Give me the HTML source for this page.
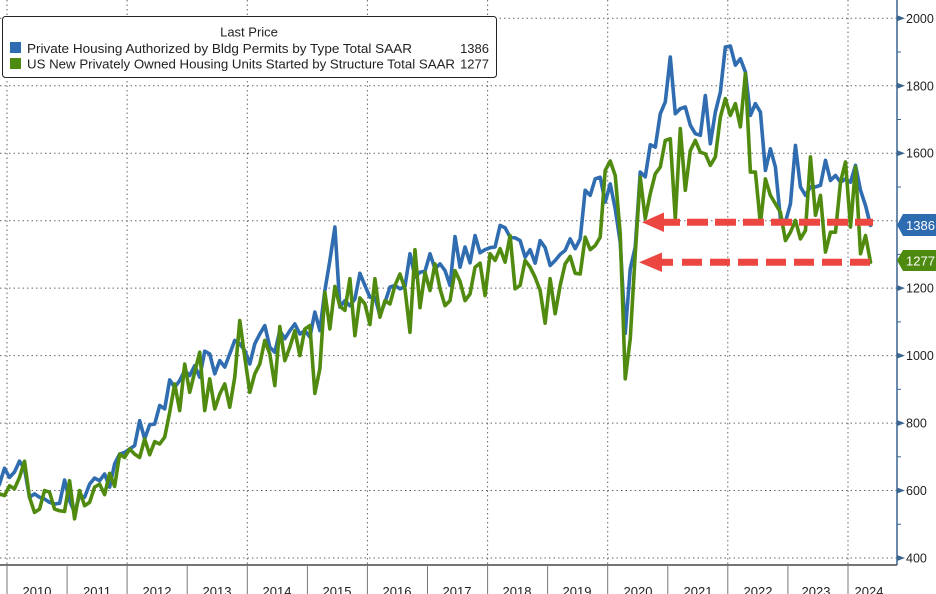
<!DOCTYPE html>
<html>
<head>
<meta charset="utf-8">
<style>
  html,body{margin:0;padding:0;background:#fff;}
  svg{display:block;}
  text{font-family:"Liberation Sans", Arial, sans-serif;}
</style>
</head>
<body>
<svg width="936" height="594" viewBox="0 0 936 594" xmlns="http://www.w3.org/2000/svg">
  <rect x="0" y="0" width="936" height="594" fill="#ffffff"/>

  <!-- horizontal dotted gridlines -->
  <g stroke="#666" stroke-width="1" stroke-dasharray="1.5 3">
    <line x1="0" y1="18.3" x2="897" y2="18.3"/>
    <line x1="0" y1="85.8" x2="897" y2="85.8"/>
    <line x1="0" y1="153.2" x2="897" y2="153.2"/>
    <line x1="0" y1="220.7" x2="897" y2="220.7"/>
    <line x1="0" y1="288.1" x2="897" y2="288.1"/>
    <line x1="0" y1="355.6" x2="897" y2="355.6"/>
    <line x1="0" y1="423.1" x2="897" y2="423.1"/>
    <line x1="0" y1="490.5" x2="897" y2="490.5"/>
    <line x1="0" y1="558" x2="897" y2="558"/>
  </g>
  <!-- vertical dotted gridlines -->
  <g stroke="#666" stroke-width="1" stroke-dasharray="1.5 3">
    <line x1="7" y1="0" x2="7" y2="565"/>
    <line x1="127.1" y1="0" x2="127.1" y2="565"/>
    <line x1="247.3" y1="0" x2="247.3" y2="565"/>
    <line x1="367.4" y1="0" x2="367.4" y2="565"/>
    <line x1="487.6" y1="0" x2="487.6" y2="565"/>
    <line x1="607.7" y1="0" x2="607.7" y2="565"/>
    <line x1="727.8" y1="0" x2="727.8" y2="565"/>
    <line x1="848" y1="0" x2="848" y2="565"/>
  </g>

  <!-- series -->
  <g transform="matrix(5.006 0 0 -0.3373 9.5 692.9)" fill="none" stroke-linejoin="round" stroke-linecap="round">
    <polyline vector-effect="non-scaling-stroke" stroke="#2f6cb0" stroke-width="3.6"
      points="-3,590 -2,619 -1,666 0,639 1,655 2,687 3,664 4,580 5,590 6,580 7,575 8,565 9,560 10,562 11,631 12,570 13,535 14,585 15,580 16,619 17,637 18,629 19,649 20,610 21,679 22,708 23,713 24,723 25,733 26,807 27,753 28,795 29,797 30,852 31,842 32,928 33,906 34,926 35,956 36,941 37,970 38,936 39,1013 40,1005 41,946 42,985 43,966 44,1005 45,1045 46,1035 47,1015 48,975 49,1035 50,1064 51,1089 52,1025 53,1010 54,1074 55,1050 56,1074 57,1094 58,1064 59,1074 60,1055 61,1129 62,1074 63,1193 64,1282 65,1381 66,1144 67,1163 68,1148 69,1168 70,1244 71,1208 72,1173 73,1173 74,1119 75,1158 76,1203 77,1208 78,1198 79,1205 80,1302 81,1233 82,1247 83,1250 84,1302 85,1257 86,1272 87,1252 88,1208 89,1353 90,1262 91,1322 92,1275 93,1356 94,1305 95,1314 96,1320 97,1322 98,1386 99,1379 100,1351 101,1349 102,1341 103,1292 104,1314 105,1274 106,1341 107,1320 108,1267 109,1282 110,1300 111,1312 112,1346 113,1317 114,1346 115,1490 116,1475 117,1524 118,1529 119,1455 120,1509 121,1435 122,1336 123,1066 124,1257 125,1322 126,1544 127,1530 128,1625 129,1618 130,1717 131,1752 132,1885 133,1717 134,1732 135,1737 136,1683 137,1658 138,1653 139,1771 140,1628 141,1722 142,1781 143,1915 144,1918 145,1861 146,1880 147,1841 148,1712 149,1747 150,1722 151,1549 152,1613 153,1559 154,1406 155,1396 156,1450 157,1623 158,1500 159,1475 160,1500 161,1500 162,1505 163,1579 164,1519 165,1534 166,1514 167,1524 168,1514 169,1564 170,1490 171,1445 172,1386"/>
    <polyline vector-effect="non-scaling-stroke" stroke="#508b10" stroke-width="3.6"
      points="-3,560 -2,590 -1,585 0,614 1,605 2,639 3,687 4,580 5,535 6,545 7,600 8,595 9,545 10,540 11,538 12,629 13,516 14,600 15,555 16,565 17,610 18,619 19,588 20,651 21,612 22,708 23,698 24,723 25,708 26,698 27,753 28,706 29,745 30,738 31,758 32,832 33,916 34,837 35,975 36,891 37,951 38,1010 39,837 40,931 41,842 42,886 43,916 44,847 45,936 46,1104 47,995 48,891 49,946 50,975 51,1045 52,1005 53,911 54,1086 55,985 56,1025 57,1074 58,1000 59,1079 60,1089 61,888 62,961 63,1188 64,1079 65,1205 66,1146 67,1134 68,1228 69,1059 70,1171 71,1153 72,1092 73,1228 74,1114 75,1163 76,1153 77,1208 78,1242 79,1198 80,1069 81,1314 82,1142 83,1247 84,1193 85,1272 86,1198 87,1148 88,1163 89,1252 90,1220 91,1163 92,1183 93,1262 94,1274 95,1178 96,1302 97,1282 98,1317 99,1277 100,1356 101,1198 102,1208 103,1282 104,1262 105,1232 106,1193 107,1096 108,1228 109,1124 110,1208 111,1272 112,1294 113,1244 114,1242 115,1351 116,1314 117,1326 118,1351 119,1549 120,1577 121,1534 122,1361 123,931 124,1050 125,1302 126,1529 127,1406 128,1480 129,1539 130,1559 131,1638 132,1643 133,1406 134,1673 135,1490 136,1608 137,1638 138,1603 139,1598 140,1564 141,1589 142,1707 143,1762 144,1712 145,1747 146,1678 147,1836 148,1544 149,1544 150,1391 151,1524 152,1475 153,1450 154,1425 155,1341 156,1366 157,1401 158,1346 159,1371 160,1589 161,1416 162,1475 163,1307 164,1366 165,1366 166,1514 167,1574 168,1381 169,1559 170,1302 171,1356 172,1277"/>
  </g>

  <!-- red dashed arrows -->
  <g fill="#ec4641">
    <polygon points="642,222.3 664,212.5 664,232"/>
    <rect x="662" y="218.8" width="18" height="7"/>
    <polygon points="639,262.3 662,252.5 662,272"/>
    <rect x="660" y="258.8" width="13" height="7"/>
  </g>
  <g stroke="#ec4641" stroke-width="7" fill="none">
    <line x1="687" y1="222.3" x2="873" y2="222.3" stroke-dasharray="21 7"/>
    <line x1="682" y1="262.3" x2="870" y2="262.3" stroke-dasharray="20 8"/>
  </g>

  <!-- bottom axis -->
  <line x1="0" y1="565" x2="897" y2="565" stroke="#222" stroke-width="1.3"/>
  <g stroke="#777" stroke-width="1">
    <line x1="7" y1="565" x2="7" y2="594"/>
    <line x1="67.1" y1="565" x2="67.1" y2="594"/>
    <line x1="127.1" y1="565" x2="127.1" y2="594"/>
    <line x1="187.2" y1="565" x2="187.2" y2="594"/>
    <line x1="247.3" y1="565" x2="247.3" y2="594"/>
    <line x1="307.4" y1="565" x2="307.4" y2="594"/>
    <line x1="367.4" y1="565" x2="367.4" y2="594"/>
    <line x1="427.5" y1="565" x2="427.5" y2="594"/>
    <line x1="487.6" y1="565" x2="487.6" y2="594"/>
    <line x1="547.6" y1="565" x2="547.6" y2="594"/>
    <line x1="607.7" y1="565" x2="607.7" y2="594"/>
    <line x1="667.8" y1="565" x2="667.8" y2="594"/>
    <line x1="727.8" y1="565" x2="727.8" y2="594"/>
    <line x1="787.9" y1="565" x2="787.9" y2="594"/>
    <line x1="848" y1="565" x2="848" y2="594"/>
  </g>
  <g font-size="13" fill="#222" text-anchor="middle">
    <text x="37" y="596">2010</text>
    <text x="97" y="596">2011</text>
    <text x="157" y="596">2012</text>
    <text x="217" y="596">2013</text>
    <text x="277" y="596">2014</text>
    <text x="337" y="596">2015</text>
    <text x="397" y="596">2016</text>
    <text x="457" y="596">2017</text>
    <text x="517" y="596">2018</text>
    <text x="577" y="596">2019</text>
    <text x="638" y="596">2020</text>
    <text x="698" y="596">2021</text>
    <text x="758" y="596">2022</text>
    <text x="816" y="596">2023</text>
    <text x="869" y="596">2024</text>
  </g>

  <!-- right axis -->
  <line x1="897" y1="0" x2="897" y2="565" stroke="#3b6591" stroke-width="1.5"/>
  <g fill="#3b6591">
    <polygon points="897,15.3 905,18.3 897,21.3"/>
    <polygon points="897,82.8 905,85.8 897,88.8"/>
    <polygon points="897,150.2 905,153.2 897,156.2"/>
    <polygon points="897,285.1 905,288.1 897,291.1"/>
    <polygon points="897,352.6 905,355.6 897,358.6"/>
    <polygon points="897,420.1 905,423.1 897,426.1"/>
    <polygon points="897,487.5 905,490.5 897,493.5"/>
    <polygon points="897,555 905,558 897,561"/>
  </g>
  <g stroke="#3b6591" stroke-width="1">
    <line x1="897" y1="52" x2="901" y2="52"/>
    <line x1="897" y1="119.5" x2="901" y2="119.5"/>
    <line x1="897" y1="187" x2="901" y2="187"/>
    <line x1="897" y1="254.4" x2="901" y2="254.4"/>
    <line x1="897" y1="321.9" x2="901" y2="321.9"/>
    <line x1="897" y1="389.3" x2="901" y2="389.3"/>
    <line x1="897" y1="456.8" x2="901" y2="456.8"/>
    <line x1="897" y1="524.3" x2="901" y2="524.3"/>
  </g>
  <g font-size="12.5" fill="#222">
    <text x="906" y="22.8">2000</text>
    <text x="906" y="90.3">1800</text>
    <text x="906" y="157.7">1600</text>
    <text x="906" y="292.6">1200</text>
    <text x="906" y="360.1">1000</text>
    <text x="906" y="427.6">800</text>
    <text x="906" y="495">600</text>
    <text x="906" y="562.5">400</text>
  </g>

  <!-- last value labels -->
  <polygon points="897,225 903,214 936,214 936,236 903,236" fill="#2e6cb2"/>
  <text x="906" y="230" font-size="13" fill="#ffffff">1386</text>
  <polygon points="897,260.5 903,250 936,250 936,271 903,271" fill="#4f8a10"/>
  <text x="906" y="265.5" font-size="13" fill="#ffffff">1277</text>

  <!-- legend -->
  <rect x="2.5" y="16.5" width="494" height="61" rx="3" ry="3" fill="#ffffff" stroke="#222" stroke-width="1"/>
  <text x="249" y="36.5" font-size="13" fill="#222" text-anchor="middle">Last Price</text>
  <rect x="10" y="42" width="11" height="11" fill="#2e6cb2"/>
  <rect x="10" y="58" width="11" height="11" fill="#4f8a10"/>
  <text x="27" y="53" font-size="13" fill="#222" textLength="385" lengthAdjust="spacingAndGlyphs">Private Housing Authorized by Bldg Permits by Type Total SAAR</text>
  <text x="489" y="53" font-size="13" fill="#222" text-anchor="end">1386</text>
  <text x="27" y="68.5" font-size="13" fill="#222" textLength="428" lengthAdjust="spacingAndGlyphs">US New Privately Owned Housing Units Started by Structure Total SAAR</text>
  <text x="489" y="68.5" font-size="13" fill="#222" text-anchor="end">1277</text>
</svg>
</body>
</html>
